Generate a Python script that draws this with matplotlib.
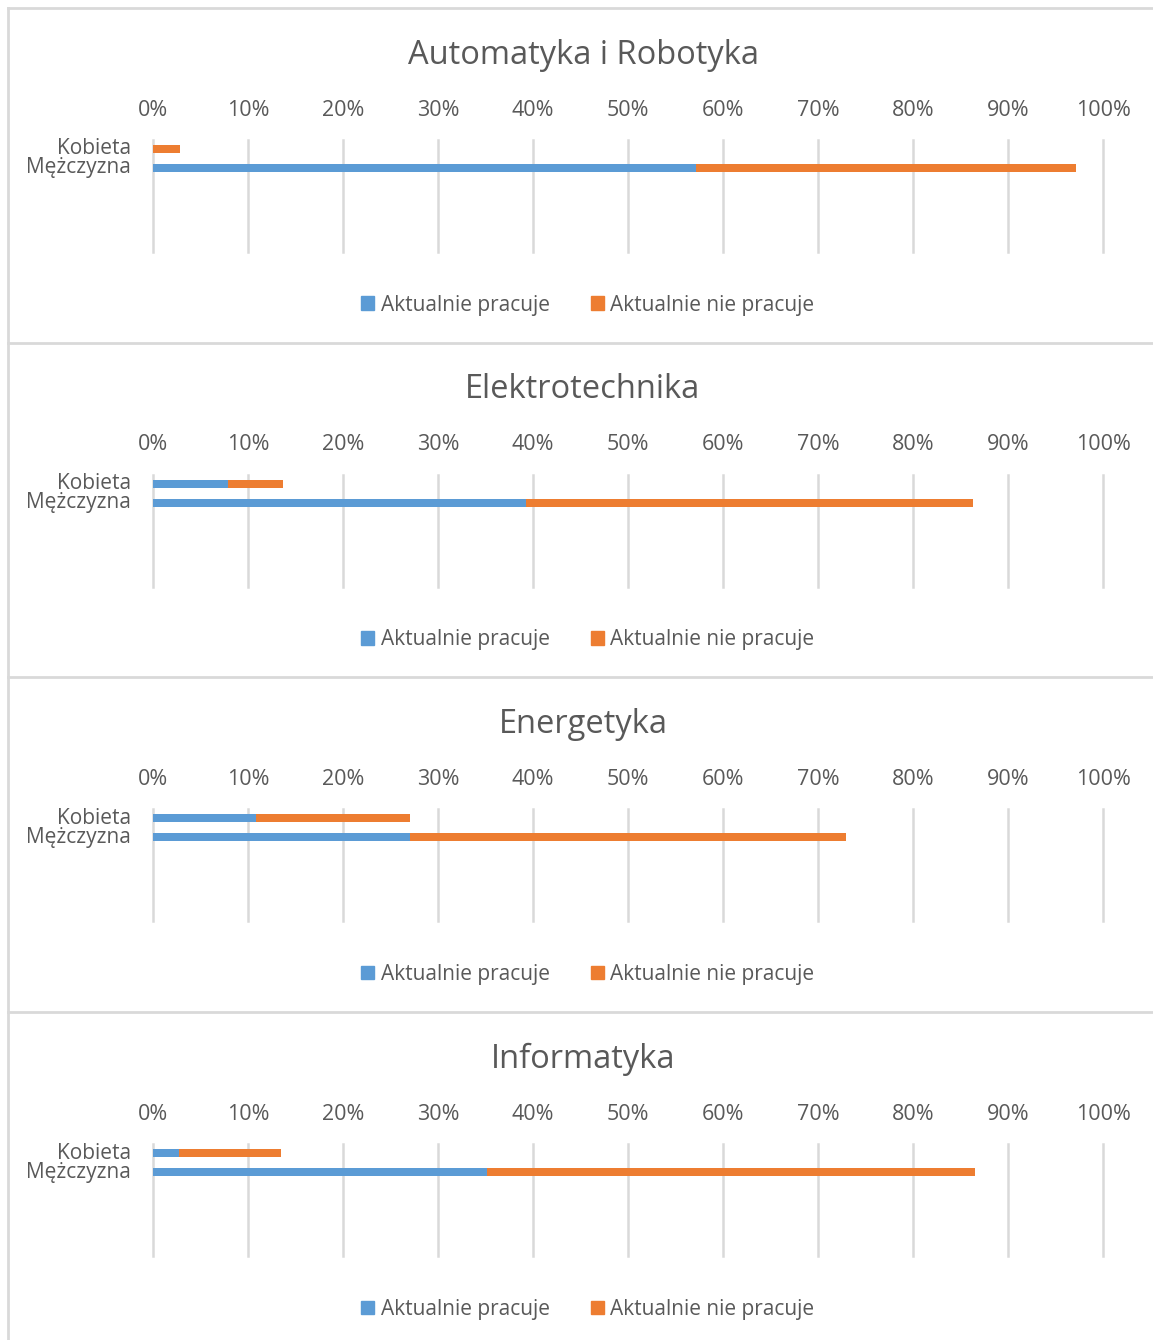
import matplotlib.pyplot as plt
from matplotlib.patches import Patch
from matplotlib.lines import Line2D
from matplotlib.ticker import PercentFormatter

plt.rcParams['font.family'] = ['Open Sans', 'DejaVu Sans']

# dane (udzial w calosci kierunku)
kierunki = ["Automatyka i Robotyka", "Elektrotechnika", "Energetyka", "Informatyka"]
kategorie = ["Kobieta", "Mężczyzna"]
serie = ["Aktualnie pracuje", "Aktualnie nie pracuje"]
pracuje_kobieta = [0.0, 0.079, 0.108, 0.027]
nie_pracuje_kobieta = [0.028, 0.058, 0.163, 0.108]
pracuje_mezczyzna = [0.572, 0.393, 0.270, 0.352]
nie_pracuje_mezczyzna = [0.400, 0.470, 0.459, 0.513]

BLUE = '#5B9BD5'
ORANGE = '#ED7D31'
TXT = '#595959'
GRID = '#D9D9D9'

W, H = 1153, 1340
fig = plt.figure(figsize=(W / 100, H / 100), dpi=100)


def fx(px):
    return px / W


def fy(py):
    return 1 - py / H


step = 334.7
for i, nazwa in enumerate(kierunki):
    off = 8 + i * step
    # ramka panelu
    fig.add_artist(Line2D([fx(8), fx(8)], [fy(off), fy(off + step)], color=GRID, lw=2))
    fig.add_artist(Line2D([fx(8), 1], [fy(off), fy(off)], color=GRID, lw=2))

    top, bottom = off + 132, off + 244
    ax = fig.add_axes([fx(153), fy(bottom), fx(1103) - fx(153), (bottom - top) / H])
    y = [0, 1]
    blue = [pracuje_kobieta[i], pracuje_mezczyzna[i]]
    orange = [nie_pracuje_kobieta[i], nie_pracuje_mezczyzna[i]]
    ax.barh(y, blue, height=0.42, color=BLUE, zorder=3, label=serie[0])
    ax.barh(y, orange, left=blue, height=0.42, color=ORANGE, zorder=3, label=serie[1])
    ax.set_xlim(0, 1)
    ax.set_ylim(5.42, -0.47)
    ax.set_xticks([k / 10 for k in range(11)])
    ax.xaxis.set_major_formatter(PercentFormatter(1.0, decimals=0))
    ax.xaxis.tick_top()
    ax.tick_params(axis='x', length=0, pad=14, labelsize=15.5, labelcolor=TXT)
    ax.set_yticks(y)
    ax.set_yticklabels(kategorie)
    ax.tick_params(axis='y', length=0, pad=16, labelsize=15, labelcolor=TXT)
    for s in ax.get_yticklabels():
        s.set_va('center')
    ax.grid(axis='x', color=GRID, lw=1.8, zorder=0)
    for gl in ax.get_xgridlines():
        gl.set_clip_on(False)
    for sp in ax.spines.values():
        sp.set_visible(False)

    fig.text(fx(583), fy(off + 47), nazwa, ha='center', va='center',
             fontsize=23.5, color=TXT)

    handles = [Patch(color=BLUE), Patch(color=ORANGE)]
    ax.legend(handles, serie, loc='center', bbox_to_anchor=(fx(588), fy(off + 297)),
              bbox_transform=fig.transFigure, ncol=2, frameon=False, fontsize=15,
              labelcolor=TXT, handlelength=0.62, handleheight=0.62,
              handletextpad=0.3, columnspacing=2.0)

fig.savefig('out.png', dpi=100)
